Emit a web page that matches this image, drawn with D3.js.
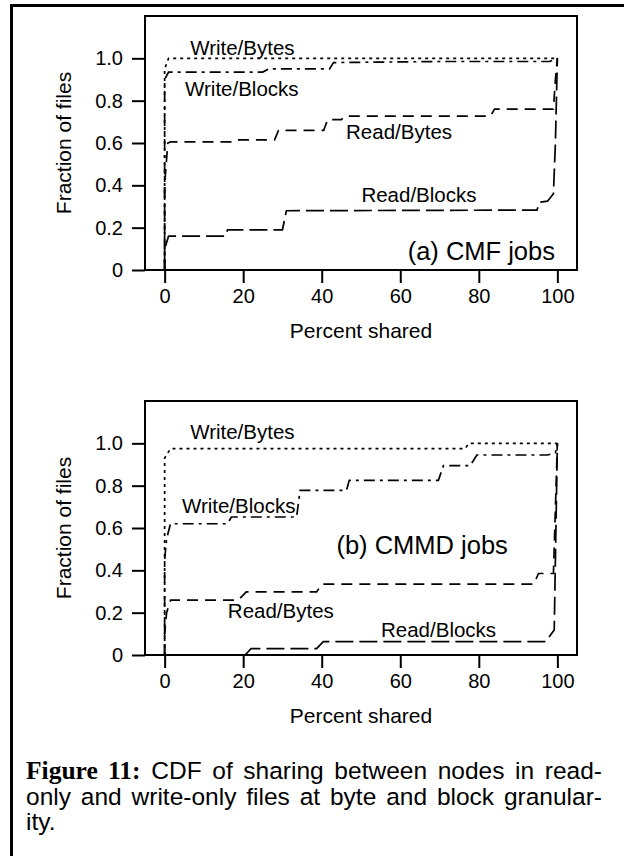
<!DOCTYPE html>
<html>
<head>
<meta charset="utf-8">
<script src="https://cdn.jsdelivr.net/npm/d3@7"></script>
<style>
  body { margin: 0; background: #fff; }
  svg { display: block; }
</style>
</head>
<body>
<div id="chart"></div>
<script>
// x ticks and y ticks shared by both panels
const xTicks = [0, 20, 40, 60, 80, 100];
const yTicks = [0, 0.2, 0.4, 0.6, 0.8, 1.0];

// (a) CMF jobs, points are [percent shared, fraction of files]
const cmfWriteBytes = [[0,0],[0,0.95],[1,1.0],[100,1.0]];
const cmfWriteBlocks = [[0,0],[0,0.9],[1,0.935],[25,0.935],[26.5,0.95],[42,0.95],[43,0.98],[70,0.985],[98,0.985],[100,1.0]];
const cmfReadBytes = [[0,0],[0,0.4],[0.8,0.6],[1.5,0.605],[17,0.605],[18,0.615],[28,0.615],[29,0.66],[40.5,0.66],[41.5,0.71],[45,0.71],[46,0.727],[83,0.727],[84,0.76],[99,0.76],[99.5,0.9],[100,1.0]];
const cmfReadBlocks = [[0,0],[0,0.1],[1,0.16],[15.5,0.16],[16,0.19],[30,0.19],[31,0.28],[94.8,0.283],[95.5,0.32],[97.5,0.325],[99,0.36],[99.5,0.6],[100,1.0]];

// (b) CMMD jobs
const cmmdWriteBytes = [[0,0],[0,0.93],[1.5,0.975],[76.5,0.975],[77.5,1.0],[100,1.0]];
const cmmdWriteBlocks = [[0,0],[0,0.45],[0.5,0.55],[1.5,0.62],[16,0.62],[17,0.652],[33.6,0.652],[34.5,0.778],[46.3,0.778],[47,0.825],[69.7,0.825],[71,0.895],[77.8,0.895],[79.5,0.945],[97.5,0.945],[99.5,0.955],[100,1.0]];
const cmmdReadBytes = [[0,0],[0,0.1],[0.5,0.2],[1.5,0.259],[18.7,0.259],[20.8,0.298],[38.7,0.298],[40,0.335],[94,0.335],[95.2,0.385],[99,0.385],[100,1.0]];
const cmmdReadBlocks = [[20.5,0],[22,0.03],[38.7,0.03],[40.4,0.063],[97,0.063],[99.2,0.118],[100,1.0]];

const seriesNames = ["Write/Bytes", "Write/Blocks", "Read/Bytes", "Read/Blocks"];

const W = 624, H = 856;
const sans = "'Liberation Sans', Arial, Helvetica, sans-serif";
const dashes = {
  "Write/Bytes": "3,4",
  "Write/Blocks": "11,5,3,5",
  "Read/Bytes": "11,7",
  "Read/Blocks": "18,6"
};

const svg = d3.select("#chart").append("svg")
  .attr("width", W).attr("height", H);

svg.append("rect").attr("width", W).attr("height", H).attr("fill", "#fff");

// page frame (top and left rules)
svg.append("path")
  .attr("d", "M11.5," + H + "V5.5H" + W)
  .attr("fill", "none").attr("stroke", "#000").attr("stroke-width", 3);

function drawPanel(top, bottom, series, labels) {
  var x = d3.scaleLinear().domain([-5, 105]).range([145, 577]);
  var y = d3.scaleLinear().domain([0, 1.2]).range([bottom, top]);
  var g = svg.append("g");

  var line = d3.line().x(d => x(d[0])).y(d => y(d[1]));

  series.forEach((pts, i) => {
    g.append("path")
      .attr("d", line(pts))
      .attr("fill", "none")
      .attr("stroke", "#000")
      .attr("stroke-width", 1.7)
      .attr("stroke-dasharray", dashes[seriesNames[i]]);
  });

  var yAxis = g.append("g")
    .attr("transform", "translate(145,0)")
    .call(d3.axisLeft(y).tickValues(yTicks)
      .tickFormat(d => d === 0 ? "0" : d.toFixed(1))
      .tickSize(13).tickPadding(9));
  var xAxis = g.append("g")
    .attr("transform", "translate(0," + bottom + ")")
    .call(d3.axisBottom(x).tickValues(xTicks).tickSize(13).tickPadding(6));

  [yAxis, xAxis].forEach(a => {
    a.select(".domain").remove();
    a.selectAll(".tick line").attr("stroke-width", 2);
    a.selectAll(".tick text").attr("font-family", sans).attr("font-size", 20).attr("fill", "#000");
  });

  g.append("rect")
    .attr("x", 145).attr("y", top)
    .attr("width", 577 - 145).attr("height", bottom - top)
    .attr("fill", "none").attr("stroke", "#000").attr("stroke-width", 2);

  labels.forEach(l => {
    g.append("text")
      .attr("x", x(l.at[0])).attr("y", y(l.at[1]))
      .attr("text-anchor", l.anchor || "start")
      .attr("font-family", sans)
      .attr("font-size", l.size || 20.5)
      .text(l.text);
  });

  g.append("text")
    .attr("transform", "translate(71," + ((top + bottom) / 2) + ") rotate(-90)")
    .attr("text-anchor", "middle")
    .attr("font-family", sans).attr("font-size", 21)
    .text("Fraction of files");

  g.append("text")
    .attr("x", 361).attr("y", bottom + 68)
    .attr("text-anchor", "middle")
    .attr("font-family", sans).attr("font-size", 21)
    .text("Percent shared");
}

drawPanel(16, 270,
  [cmfWriteBytes, cmfWriteBlocks, cmfReadBytes, cmfReadBlocks],
  [
    {text: "Write/Bytes", at: [6.5, 1.016]},
    {text: "Write/Blocks", at: [5.2, 0.82]},
    {text: "Read/Bytes", at: [46.2, 0.619]},
    {text: "Read/Blocks", at: [50.1, 0.319]},
    {text: "(a) CMF jobs", at: [99.4, 0.047], anchor: "end", size: 25.5}
  ]);

drawPanel(401, 655,
  [cmmdWriteBytes, cmmdWriteBlocks, cmmdReadBytes, cmmdReadBlocks],
  [
    {text: "Write/Bytes", at: [6.5, 1.02]},
    {text: "Write/Blocks", at: [4.4, 0.671]},
    {text: "Read/Bytes", at: [16.1, 0.177]},
    {text: "Read/Blocks", at: [55.1, 0.083]},
    {text: "(b) CMMD jobs", at: [87.4, 0.477], anchor: "end", size: 25.5}
  ]);

// caption, first two lines justified to the right margin
const captionLines = [
  {bold: "Figure 11:", rest: " CDF of sharing between nodes in read-", justify: true},
  {bold: "", rest: "only and write-only files at byte and block granular-", justify: true},
  {bold: "", rest: "ity.", justify: false}
];
const capLeft = 26, capRight = 602;
captionLines.forEach((c, i) => {
  var t = svg.append("text")
    .attr("x", capLeft).attr("y", 779 + i * 25.7)
    .attr("font-family", sans).attr("font-size", 24.5);
  if (c.bold) {
    t.append("tspan")
      .attr("font-family", "'Liberation Serif', 'Times New Roman', serif")
      .attr("font-weight", "bold").attr("font-size", 25.5)
      .text(c.bold);
  }
  t.append("tspan").text(c.rest);
  if (c.justify) {
    var len = t.node().getComputedTextLength();
    var spaces = (c.bold + c.rest).split(" ").length - 1;
    var extra = (capRight - capLeft - len) / spaces;
    t.style("word-spacing", extra + "px");
  }
});
</script>
</body>
</html>
